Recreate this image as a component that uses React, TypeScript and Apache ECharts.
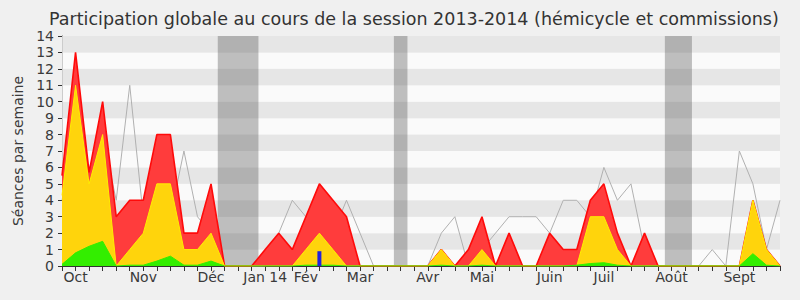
import React, { useEffect, useRef } from "react";
import * as echarts from "echarts";

const weekIndex = Array.from({ length: 54 }, (_, i) => i);
const monthTicks = [1, 6, 11, 15, 18, 22, 27, 31, 36, 40, 45, 50];
const monthNames = ["Oct", "Nov", "Déc", "Jan 14", "Fév", "Mar", "Avr", "Mai", "Juin", "Juil", "Août", "Sept"];

const redValues = [5.5, 13, 5.7, 10, 3, 4, 4, 8, 8, 2, 2, 5, 0, 0, 0, 1, 2, 1, 3, 5, 4, 3, 0, 0, 0, 0, 0, 0, 1, 0, 1, 3, 0, 2, 0, 0, 2, 1, 1, 4, 5, 2, 0, 2, 0, 0, 0, 0, 0, 0, 0, 4, 1, 0];
const yellowValues = [4.3, 11, 5, 8, 0, 1, 2, 5, 5, 1, 1, 2, 0, 0, 0, 0, 0, 0, 1, 2, 1, 0, 0, 0, 0, 0, 0, 0, 1, 0, 0, 1, 0, 0, 0, 0, 0, 0, 0, 3, 3, 1, 0, 0, 0, 0, 0, 0, 0, 0, 0, 4, 1, 0];
const greenValues = [0.1, 0.8, 1.2, 1.5, 0, 0.05, 0.05, 0.3, 0.6, 0.05, 0.05, 0.3, 0, 0, 0, 0, 0, 0, 0.05, 0.05, 0.05, 0, 0, 0, 0, 0, 0, 0, 0.05, 0, 0, 0.05, 0, 0, 0, 0, 0, 0, 0.05, 0.15, 0.2, 0.05, 0, 0, 0, 0, 0, 0, 0, 0, 0, 0.75, 0.05, 0];
const greyValues = [4, 8, 3, 8, 4, 11, 3, 2, 3, 7, 3, 2, 0, 0, 0, 0, 2, 4, 3, 2, 2, 4, 2, 0, 0, 0, 0, 0, 2, 3, 0, 1, 2, 3, 3, 3, 2, 4, 4, 3, 6, 4, 5, 1, 0, 0, 0, 0, 1, 0, 7, 5, 1, 4];
const blueWeeks = [19];
const blueValues = [0.9];
const holidayStarts = [11.5, 24.5, 44.5];
const holidayEnds = [14.5, 25.5, 46.5];

const FONT = "DejaVu Sans";

const pairs = (vals: number[]) => weekIndex.map((i) => [i, vals[i]]);

export default function App() {
  const ref = useRef<HTMLDivElement>(null);
  useEffect(() => {
    if (!ref.current) return;
    const chart = echarts.init(ref.current, null, { renderer: "svg" });
    const labelFor = (v: number) => {
      const k = monthTicks.indexOf(v);
      return k >= 0 ? monthNames[k] : "";
    };
    chart.setOption({
      animation: false,
      backgroundColor: "#f0f0f0",
      textStyle: { fontFamily: FONT },
      title: {
        text: "Participation globale au cours de la session 2013-2014 (hémicycle et commissions)",
        left: 44,
        top: 5,
        textStyle: { fontFamily: FONT, fontSize: 17.5, fontWeight: "normal", color: "#333" },
      },
      graphic: [
        {
          type: "text",
          x: 18,
          y: 151,
          rotation: Math.PI / 2,
          style: {
            text: "Séances par semaine",
            fontFamily: FONT,
            fontSize: 14,
            fill: "#3a3a3a",
            textAlign: "center",
            textVerticalAlign: "middle",
          },
        },
      ],
      grid: { left: 62, right: 20, top: 36, bottom: 34, containLabel: false },
      xAxis: [
        {
          type: "value",
          min: 0,
          max: 53,
          interval: 1,
          position: "bottom",
          axisLine: { show: true, lineStyle: { color: "#333", width: 1 } },
          axisTick: { show: true, length: 5, lineStyle: { color: "#333" } },
          splitLine: { show: false },
          axisLabel: {
            formatter: labelFor,
            margin: 4,
            fontFamily: FONT,
            fontSize: 14,
            color: "#3a3a3a",
            showMinLabel: true,
            showMaxLabel: true,
          },
        },
        {
          type: "value",
          min: 0,
          max: 53,
          interval: 1,
          position: "top",
          axisLine: { show: false },
          axisTick: { show: true, inside: true, length: 2, lineStyle: { color: "#333" } },
          splitLine: { show: false },
          axisLabel: { show: false },
        },
      ],
      yAxis: [
        {
          type: "value",
          min: 0,
          max: 14,
          interval: 1,
          axisLine: { show: true, lineStyle: { color: "#333", width: 1 } },
          axisTick: { show: true, length: 4, lineStyle: { color: "#333" } },
          splitLine: { show: false },
          splitArea: { show: true, areaStyle: { color: ["#fafafa", "#e6e6e6"] } },
          axisLabel: { margin: 8, fontFamily: FONT, fontSize: 14, color: "#3a3a3a" },
        },
        {
          type: "value",
          min: 0,
          max: 14,
          interval: 1,
          position: "right",
          axisLine: { show: true, lineStyle: { color: "#cccccc", width: 1 } },
          axisTick: { show: false },
          splitLine: { show: false },
          axisLabel: { show: false },
        },
      ],
      series: [
        {
          type: "line",
          name: "vacances",
          data: [],
          z: 1,
          silent: true,
          markArea: {
            silent: true,
            itemStyle: { color: "rgba(76,76,76,0.35)" },
            data: holidayStarts.map((s, k) => [{ xAxis: s }, { xAxis: holidayEnds[k] }]),
          },
        },
        {
          type: "line",
          name: "gris",
          data: pairs(greyValues),
          z: 1,
          symbol: "none",
          lineStyle: { color: "#b0b0b0", width: 1 },
        },
        {
          type: "line",
          name: "rouge",
          data: pairs(redValues),
          z: 2,
          symbol: "none",
          lineStyle: { color: "#ff0a0a", width: 1.6 },
          areaStyle: { color: "#ff3c3c", opacity: 1 },
        },
        {
          type: "line",
          name: "jaune",
          data: pairs(yellowValues),
          z: 3,
          symbol: "none",
          lineStyle: { color: "#ffee00", width: 1 },
          areaStyle: { color: "#ffd40c", opacity: 1 },
        },
        {
          type: "line",
          name: "vert",
          data: pairs(greenValues),
          z: 4,
          symbol: "none",
          lineStyle: { color: "#33ee00", width: 1 },
          areaStyle: { color: "#33ee00", opacity: 1 },
        },
        {
          type: "bar",
          name: "bleu",
          data: blueWeeks.map((w, k) => [w, blueValues[k]]),
          z: 5,
          barWidth: 4,
          itemStyle: { color: "#2222dd" },
        },
      ],
    });
    return () => chart.dispose();
  }, []);
  return (
    <div
      ref={ref}
      style={{ position: "fixed", left: 0, top: 0, width: 800, height: 300 }}
    />
  );
}
